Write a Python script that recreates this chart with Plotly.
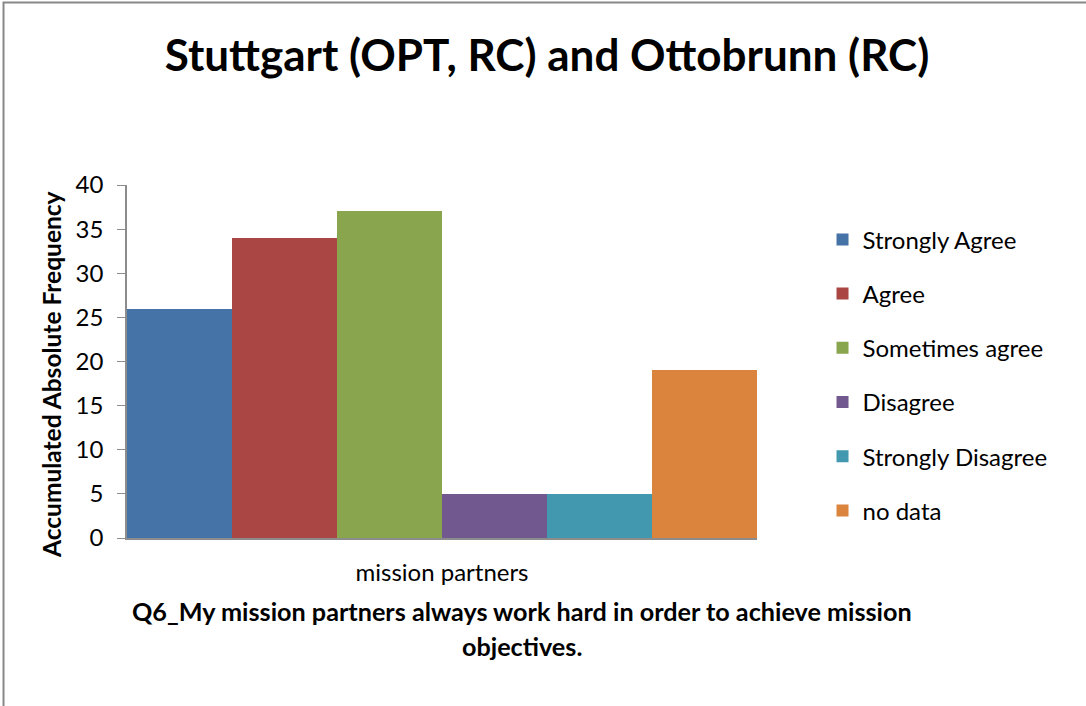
import plotly.graph_objects as go

category = ["mission partners"]
responses = ["Strongly Agree", "Agree", "Sometimes agree", "Disagree", "Strongly Disagree", "no data"]
counts = [26, 34, 37, 5, 5, 19]
colors = ["#4572A7", "#AA4643", "#89A54E", "#71588F", "#4198AF", "#DB843D"]
x_title_lines = [
    "Q6_My mission partners always work hard in order to achieve mission",
    "objectives.",
]
y_title = "Accumulated Absolute Frequency"

FONT = "Lato"

fig = go.Figure()

for name, val, col in zip(responses, counts, colors):
    fig.add_trace(go.Bar(
        x=category,
        y=[val],
        name=name,
        legendgroup=name,
        marker=dict(color=col, line=dict(width=0)),
    ))

# x-axis title as two annotations (Excel-like line spacing, offset to the right)
annotations = [
    dict(text=f"<b>{line}</b>", xref="paper", yref="paper",
         x=(522 - 127) / 630, y=-(ypix - 538) / 353,
         xanchor="center", yanchor="middle", showarrow=False,
         font=dict(size=25.2, family=FONT, color="black"))
    for line, ypix in zip(x_title_lines, [611, 646])
]
# y-axis title, sits a bit below the plot centre like in Excel
annotations.append(dict(
    text=f"<b>{y_title}</b>", xref="paper", yref="paper",
    x=(51 - 127) / 630, y=-(375 - 538) / 353,
    xanchor="center", yanchor="middle", showarrow=False, textangle=-90,
    font=dict(size=24.5, family=FONT, color="black"),
))

fig.update_layout(
    width=1086,
    height=706,
    barmode="group",
    bargap=0,
    bargroupgap=0,
    paper_bgcolor="white",
    plot_bgcolor="white",
    font=dict(family=FONT, color="black"),
    margin=dict(l=127, r=329, t=185, b=168),
    title=dict(
        text="<b>Stuttgart (OPT, RC) and Ottobrunn (RC)</b>",
        font=dict(size=44, family=FONT),
        x=(547 / 1086), xanchor="center",
        y=1 - 56 / 706, yanchor="middle",
    ),
    legend=dict(
        x=1.104, xanchor="left",
        y=0.9085, yanchor="top",
        font=dict(size=24, family=FONT),
        tracegroupgap=20,
        itemwidth=30,
        bgcolor="rgba(0,0,0,0)",
    ),
    annotations=annotations,
    shapes=[dict(
        type="rect", xref="paper", yref="paper",
        x0=-0.196, x1=1.6, y0=-0.6, y1=1.517,
        line=dict(color="#888888", width=2),
        fillcolor="rgba(0,0,0,0)",
        layer="below",
    )],
)

fig.update_yaxes(
    range=[0, 40],
    dtick=5,
    showgrid=False,
    zeroline=False,
    showline=True,
    linecolor="#8c8c8c",
    linewidth=1.5,
    ticks="outside",
    ticklen=8,
    tickcolor="#8c8c8c",
    ticklabelstandoff=9,
    tickfont=dict(size=24, family=FONT),
)

fig.update_xaxes(
    showgrid=False,
    showline=True,
    linecolor="#8c8c8c",
    linewidth=1.5,
    ticks="",
    ticklabelstandoff=12,
    tickfont=dict(size=24, family=FONT),
)

fig.write_html("out.html", config={"displayModeBar": False},
               post_script="document.body.style.margin='0';")
